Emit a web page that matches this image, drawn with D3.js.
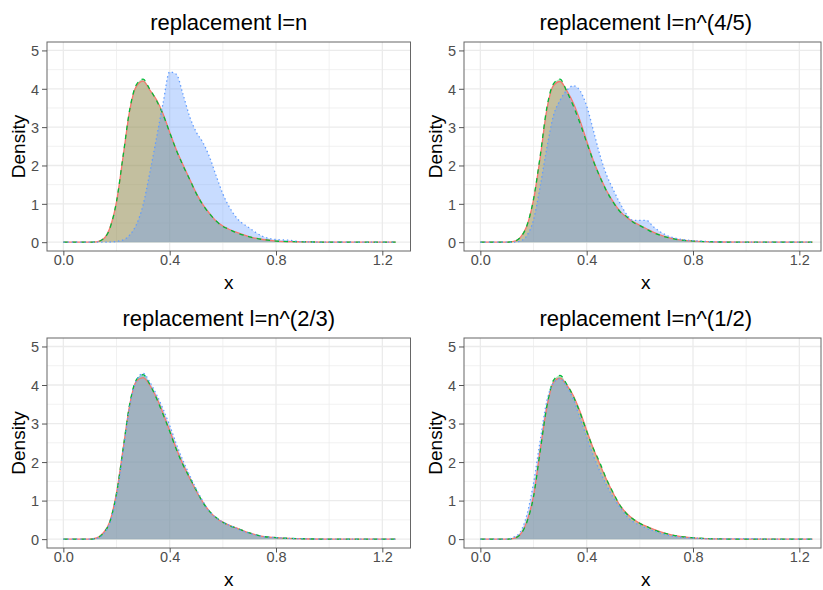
<!DOCTYPE html>
<html>
<head>
  <meta charset="utf-8">
  <title>replacement densities</title>
<script src="https://cdnjs.cloudflare.com/ajax/libs/d3/7.8.5/d3.min.js"></script>
<style>
body {
  margin: 0;
  background: white;
}

text {
  font-family: "Liberation Sans", Arial, Helvetica, sans-serif;
}

.grid-minor line {
  stroke: #EBEBEB;
  stroke-width: 0.7;
}

.grid-major line {
  stroke: #EBEBEB;
  stroke-width: 1.3;
}

.axis path {
  display: none;
}

.axis line {
  stroke: #555555;
  stroke-width: 1;
}

.axis text {
  fill: #4D4D4D;
  font-size: 14.5px;
}

.panel-border {
  fill: none;
  stroke: #666666;
  stroke-width: 1;
}

.title {
  fill: Black;
  font-size: 22px;
  text-anchor: middle;
}

.axis-title {
  fill: Black;
  font-size: 19px;
  text-anchor: middle;
}
</style>
</head>
<body>
<svg id="chart" width="823" height="590"></svg>
<script>
// density estimates, all series sampled on the same x grid
var xGrid = [0, 0.1, 0.125, 0.15, 0.175, 0.2, 0.225, 0.25, 0.275, 0.3,
             0.325, 0.35, 0.375, 0.4, 0.425, 0.45, 0.475, 0.5, 0.525, 0.55,
             0.575, 0.6, 0.625, 0.65, 0.7, 0.75, 0.8, 0.85, 0.9, 1.0,
             1.1, 1.25];

var panelTitles = ["replacement l=n", "replacement l=n^(4/5)",
                   "replacement l=n^(2/3)", "replacement l=n^(1/2)"];

var xTicks = [0, 0.4, 0.8, 1.2];
var xMinorTicks = [0.2, 0.6, 1.0];
var yTicks = [0, 1, 2, 3, 4, 5];
var yMinorTicks = [0.5, 1.5, 2.5, 3.5, 4.5];

// l = n
var solidN   = [0, 0, 0.01, 0.08, 0.37, 1.05, 2.24, 3.45, 4.07, 4.2,
                3.97, 3.72, 3.35, 2.87, 2.41, 2.02, 1.65, 1.28, 0.98, 0.75,
                0.55, 0.42, 0.33, 0.26, 0.14, 0.07, 0.03, 0.015, 0.01, 0, 0, 0];
var dashedN  = [0, 0, 0.01, 0.08, 0.36, 1.06, 2.26, 3.47, 4.11, 4.25,
                3.99, 3.7, 3.33, 2.86, 2.4, 2.0, 1.64, 1.27, 0.97, 0.74,
                0.55, 0.41, 0.33, 0.25, 0.14, 0.07, 0.03, 0.015, 0.01, 0, 0, 0];
var dottedN  = [0, 0, 0, 0, 0.005, 0.02, 0.06, 0.19, 0.46, 0.97,
                1.8, 2.7, 3.62, 4.44, 4.38, 3.86, 3.28, 2.87, 2.6, 2.22,
                1.73, 1.26, 0.91, 0.65, 0.37, 0.15, 0.07, 0.05, 0.01, 0, 0, 0];

// l = n^(4/5)
var solid45  = [0, 0, 0.02, 0.12, 0.42, 1.1, 2.2, 3.45, 4.08, 4.19,
                3.95, 3.62, 3.17, 2.64, 2.13, 1.71, 1.34, 1.05, 0.81, 0.65,
                0.53, 0.44, 0.35, 0.26, 0.13, 0.06, 0.03, 0.015, 0.005, 0, 0, 0];
var dashed45 = [0, 0, 0.02, 0.12, 0.43, 1.12, 2.24, 3.5, 4.13, 4.25,
                3.93, 3.55, 3.1, 2.6, 2.12, 1.7, 1.33, 1.04, 0.8, 0.67,
                0.52, 0.43, 0.34, 0.25, 0.13, 0.06, 0.03, 0.015, 0.005, 0, 0, 0];
var dotted45 = [0, 0, 0, 0.03, 0.17, 0.58, 1.45, 2.45, 3.3, 3.7,
                3.96, 4.08, 3.95, 3.55, 2.92, 2.27, 1.75, 1.37, 1.02, 0.73,
                0.57, 0.57, 0.57, 0.41, 0.18, 0.08, 0.04, 0.02, 0.005, 0, 0, 0];

// l = n^(2/3)
var solid23  = [0, 0, 0.03, 0.16, 0.46, 1.2, 2.35, 3.5, 4.1, 4.19,
                4.0, 3.68, 3.27, 2.82, 2.35, 1.94, 1.59, 1.25, 0.96, 0.72,
                0.55, 0.44, 0.36, 0.29, 0.16, 0.07, 0.04, 0.02, 0.01, 0, 0, 0];
var dashed23 = [0, 0, 0.03, 0.15, 0.45, 1.18, 2.35, 3.52, 4.14, 4.27,
                4.02, 3.66, 3.24, 2.8, 2.33, 1.93, 1.6, 1.27, 0.95, 0.72,
                0.56, 0.44, 0.35, 0.29, 0.16, 0.07, 0.04, 0.02, 0.01, 0, 0, 0];
var dotted23 = [0, 0, 0.02, 0.13, 0.42, 1.12, 2.28, 3.46, 4.12, 4.3,
                4.08, 3.76, 3.38, 2.95, 2.47, 2.04, 1.66, 1.3, 0.98, 0.72,
                0.55, 0.44, 0.36, 0.28, 0.15, 0.07, 0.04, 0.02, 0.01, 0, 0, 0];

// l = n^(1/2)
var solid12  = [0, 0, 0.02, 0.12, 0.46, 1.12, 2.3, 3.42, 4.07, 4.18,
                4.0, 3.72, 3.31, 2.82, 2.35, 1.93, 1.54, 1.19, 0.88, 0.67,
                0.52, 0.41, 0.33, 0.26, 0.14, 0.07, 0.035, 0.015, 0.005, 0, 0, 0];
var dashed12 = [0, 0, 0.02, 0.12, 0.44, 1.1, 2.28, 3.44, 4.12, 4.25,
                4.02, 3.7, 3.28, 2.8, 2.35, 1.98, 1.55, 1.2, 0.88, 0.66,
                0.52, 0.41, 0.33, 0.25, 0.14, 0.07, 0.035, 0.015, 0.005, 0, 0, 0];
var dotted12 = [0, 0, 0.05, 0.18, 0.63, 1.45, 2.55, 3.58, 4.05, 4.16,
                3.96, 3.63, 3.14, 2.65, 2.17, 1.76, 1.4, 1.08, 0.83, 0.6,
                0.45, 0.36, 0.28, 0.22, 0.11, 0.05, 0.03, 0.01, 0.005, 0.015, 0, 0];

var seriesColors = ["#F8766D", "#00BA38", "#619CFF"];
var seriesDash   = [null, "4.5,4.5", "1.4,2.8"];
var fillAlpha = 0.35;
var fillOrder = [1, 0, 2];   // green fill sits under the red one
var lineOrder = [0, 1, 2];

var svg = d3.select("#chart");
var svgWidth = +svg.attr("width");

var xDomain = [-0.0615, 1.306];
var yDomain = [-0.23, 5.22];
var panelWidth = 363.5;

var panels = [
  {title: panelTitles[0], series: [solidN, dashedN, dottedN],    left: 47,  top: 42,  height: 209},
  {title: panelTitles[1], series: [solid45, dashed45, dotted45], left: 464, top: 42,  height: 209},
  {title: panelTitles[2], series: [solid23, dashed23, dotted23], left: 47,  top: 338, height: 210},
  {title: panelTitles[3], series: [solid12, dashed12, dotted12], left: 464, top: 338, height: 210}
];

panels.forEach(drawPanel);

function drawPanel(p, i) {
  var x = d3.scaleLinear().domain(xDomain).range([0, panelWidth]);
  var y = d3.scaleLinear().domain(yDomain).range([p.height, 0]);
  // right column runs past the picture edge
  var visW = Math.min(panelWidth, svgWidth - 2 - p.left);

  var g = svg.append("g")
    .attr("transform", `translate(${p.left}, ${p.top})`);

  g.append("clipPath")
    .attr("id", "clip" + i)
    .append("rect")
      .attr("width", visW)
      .attr("height", p.height);

  var grid = g.append("g").attr("clip-path", `url(#clip${i})`);

  grid.append("g").attr("class", "grid-minor")
    .selectAll("line.v").data(xMinorTicks)
    .enter().append("line")
      .attr("x1", d => x(d)).attr("x2", d => x(d))
      .attr("y1", 0).attr("y2", p.height);
  grid.append("g").attr("class", "grid-minor")
    .selectAll("line.h").data(yMinorTicks)
    .enter().append("line")
      .attr("x1", 0).attr("x2", visW)
      .attr("y1", d => y(d)).attr("y2", d => y(d));
  grid.append("g").attr("class", "grid-major")
    .selectAll("line.v").data(xTicks)
    .enter().append("line")
      .attr("x1", d => x(d)).attr("x2", d => x(d))
      .attr("y1", 0).attr("y2", p.height);
  grid.append("g").attr("class", "grid-major")
    .selectAll("line.h").data(yTicks)
    .enter().append("line")
      .attr("x1", 0).attr("x2", visW)
      .attr("y1", d => y(d)).attr("y2", d => y(d));

  var area = d3.area()
    .x((d, k) => x(xGrid[k]))
    .y0(y(0))
    .y1(d => y(d))
    .curve(d3.curveMonotoneX);
  var line = d3.line()
    .x((d, k) => x(xGrid[k]))
    .y(d => y(d))
    .curve(d3.curveMonotoneX);

  var marks = g.append("g").attr("clip-path", `url(#clip${i})`);

  // all fills first, then the outlines
  marks.selectAll(".fill")
    .data(fillOrder)
    .enter().append("path")
      .attr("class", "fill")
      .attr("d", k => area(p.series[k]))
      .style("fill", k => seriesColors[k])
      .style("fill-opacity", fillAlpha);

  marks.selectAll(".outline")
    .data(lineOrder)
    .enter().append("path")
      .attr("class", "outline")
      .attr("d", k => line(p.series[k]))
      .style("fill", "none")
      .style("stroke", k => seriesColors[k])
      .style("stroke-width", 1.3)
      .style("stroke-dasharray", k => seriesDash[k]);

  g.append("rect")
    .attr("class", "panel-border")
    .attr("width", visW)
    .attr("height", p.height);

  var yAxis = g.append("g")
    .attr("class", "axis")
    .call(d3.axisLeft(y).tickValues(yTicks).tickSize(5).tickPadding(3)
          .tickFormat(d3.format("d")));
  yAxis.selectAll("text")
    .attr("dy", "0.36em");

  var xAxis = g.append("g")
    .attr("class", "axis")
    .attr("transform", `translate(0, ${p.height})`)
    .call(d3.axisBottom(x).tickValues(xTicks).tickSize(4.5)
          .tickFormat(d3.format(".1f")));
  xAxis.selectAll("text")
    .attr("y", 14)
    .attr("dy", null);
  yAxis.attr("font-family", null).attr("font-size", null);
  xAxis.attr("font-family", null).attr("font-size", null);

  g.append("text")
    .attr("class", "title")
    .attr("x", panelWidth / 2)
    .attr("y", -11.8)
    .text(p.title);

  g.append("text")
    .attr("class", "axis-title")
    .attr("x", panelWidth / 2)
    .attr("y", p.height + 37.5)
    .text("x");

  g.append("text")
    .attr("class", "axis-title")
    .attr("transform", `translate(-22.5, ${p.height / 2}) rotate(-90)`)
    .text("Density");
}
</script>
</body>
</html>
